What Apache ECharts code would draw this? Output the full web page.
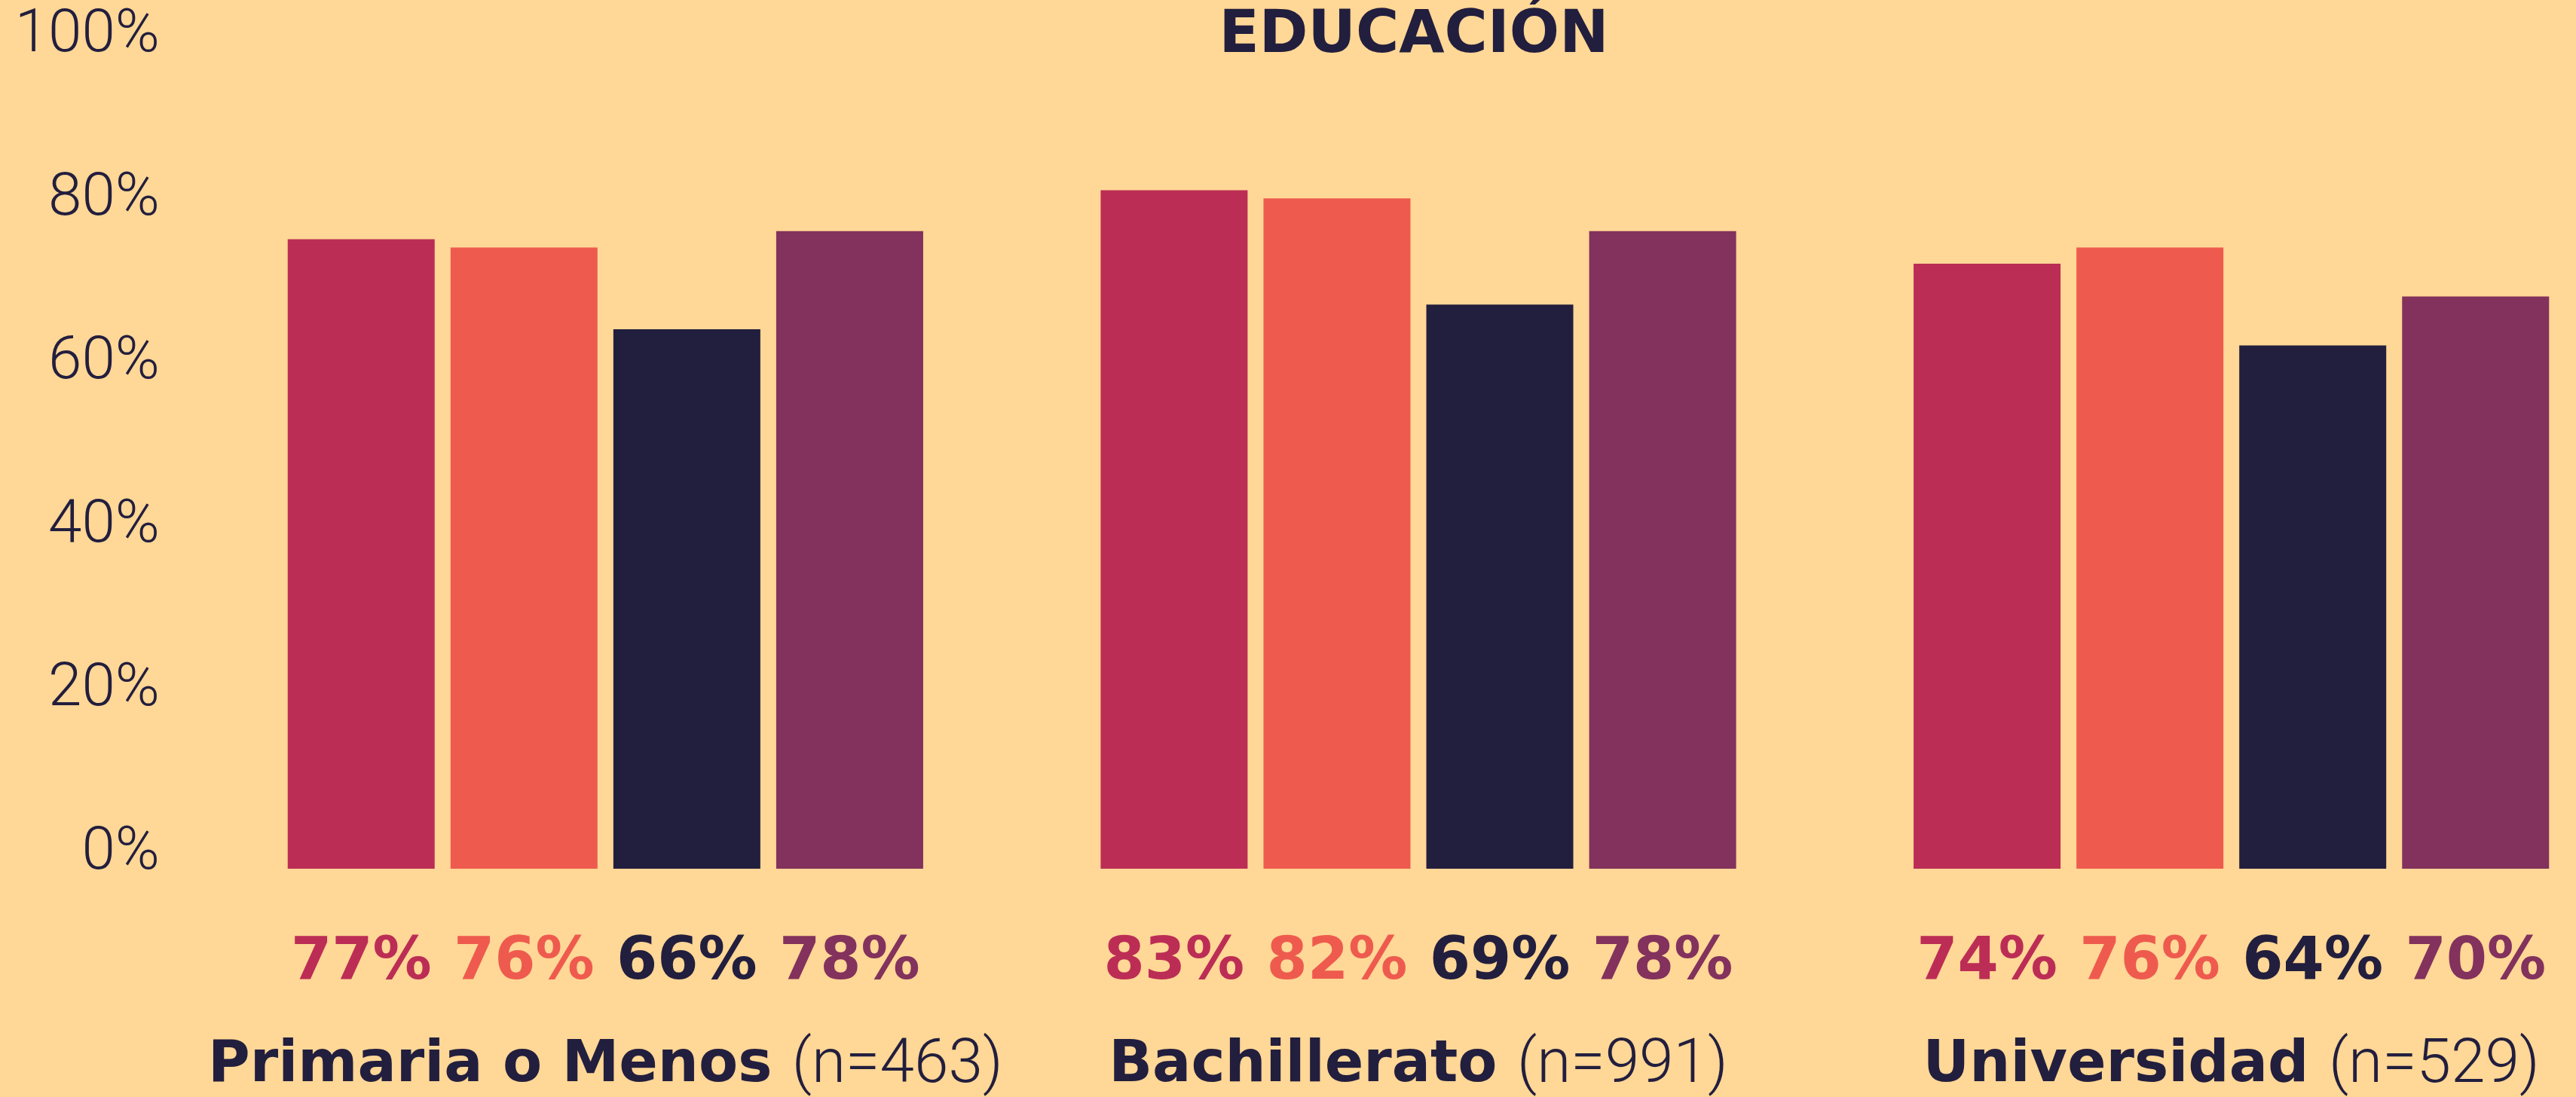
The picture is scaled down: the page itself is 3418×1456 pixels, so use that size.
<!DOCTYPE html>
<html lang="es">
<head>
<meta charset="UTF-8" />
<title>Educación</title>
<script src="https://cdn.jsdelivr.net/npm/echarts@6/dist/echarts.min.js"></script>
<style>
  html, body { margin: 0; padding: 0; background: #FFD796; }
  #chart { width: 3418px; height: 1456px; }
</style>
</head>
<body>
<div id="chart"></div>
<script>
// datos
var categories = ["Primaria o Menos", "Bachillerato", "Universidad"];
var sampleSizes = ["463", "991", "529"];
var serie1 = [77, 83, 74];
var serie2 = [76, 82, 76];
var serie3 = [66, 69, 64];
var serie4 = [78, 78, 70];
var yTicks = [0, 20, 40, 60, 80, 100];

var colors = ["#BC2D55", "#EE5B4E", "#221E3E", "#82325C"];
var dark = "#221E3E";

function makeSeries(name, values, color) {
  return {
    name: name,
    type: "bar",
    data: values,
    barWidth: 195,
    barGap: "10.8%",
    itemStyle: { color: color },
    label: {
      show: true,
      position: ["50%", "100%"],
      offset: [0, 126],
      align: "center",
      verticalAlign: "middle",
      formatter: "{c}%",
      color: color,
      fontFamily: "DejaVu Sans",
      fontWeight: "bold",
      fontSize: 78
    }
  };
}

var myChart = echarts.init(document.getElementById("chart"));
var option = {
  backgroundColor: "#FFD796",
  animation: false,
  title: {
    text: "EDUCACIÓN",
    left: 1871,
    top: 44,
    textAlign: "center",
    textVerticalAlign: "middle",
    textStyle: {
      color: dark,
      fontFamily: "DejaVu Sans",
      fontWeight: "bold",
      fontSize: 78
    }
  },
  grid: {
    left: 264,
    width: 3236,
    top: 68,
    bottom: 303,
    containLabel: false,
    outerBoundsMode: "none"
  },
  xAxis: {
    type: "category",
    data: categories,
    axisLine: { show: false },
    axisTick: { show: false },
    axisLabel: {
      margin: 262,
      verticalAlign: "middle",
      formatter: function (v, i) {
        return "{b|" + v + "\u00a0}{l|(n=" + sampleSizes[i] + ")}";
      },
      rich: {
        b: { color: dark, fontFamily: "DejaVu Sans", fontWeight: "bold", fontSize: 76 },
        l: { color: dark, fontFamily: "Roboto", fontWeight: 300, fontSize: 82 }
      }
    }
  },
  yAxis: {
    type: "value",
    min: yTicks[0],
    max: yTicks[yTicks.length - 1],
    interval: 20,
    splitLine: { show: false },
    axisLine: { show: false },
    axisTick: { show: false },
    axisLabel: {
      margin: 52,
      formatter: "{value}%",
      verticalAlign: "bottom",
      lineHeight: 40,
      color: dark,
      fontFamily: "Roboto",
      fontWeight: 300,
      fontSize: 80
    }
  },
  series: [
    makeSeries("Serie 1", serie1, colors[0]),
    makeSeries("Serie 2", serie2, colors[1]),
    makeSeries("Serie 3", serie3, colors[2]),
    makeSeries("Serie 4", serie4, colors[3])
  ]
};
myChart.setOption(option);
</script>
</body>
</html>
